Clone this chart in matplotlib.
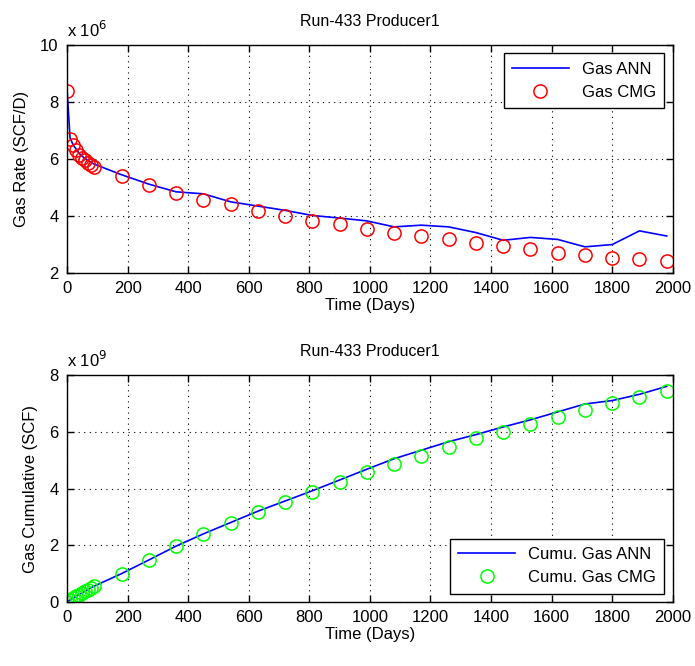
import numpy as np
import matplotlib
matplotlib.use("Agg")
import matplotlib.pyplot as plt

plt.rcParams['font.family'] = ['Liberation Sans', 'DejaVu Sans']
plt.rcParams['font.size'] = 12

# Time points (days)
days = [1, 10, 20, 30, 40, 50, 60, 70, 80, 90,
        180, 270, 360, 450, 540, 630, 720, 810, 900, 990,
        1080, 1170, 1260, 1350, 1440, 1530, 1620, 1710, 1800, 1890, 1980]

# Gas rate, x 10^6 SCF/D
rate_ann = [8.3, 6.75, 6.5, 6.35, 6.2, 6.1, 6.02, 5.95, 5.88, 5.82,
            5.45, 5.12, 4.85, 4.78, 4.5, 4.35, 4.2, 4.02, 3.93, 3.83,
            3.62, 3.68, 3.62, 3.42, 3.15, 3.25, 3.18, 2.92, 3.0, 3.48, 3.30]
rate_cmg = [8.4, 6.7, 6.5, 6.3, 6.15, 6.05, 5.95, 5.85, 5.78, 5.72,
            5.42, 5.09, 4.80, 4.57, 4.41, 4.17, 3.99, 3.82, 3.71, 3.54,
            3.42, 3.30, 3.19, 3.07, 2.95, 2.84, 2.72, 2.65, 2.54, 2.49, 2.43]

# Gas cumulative, x 10^9 SCF
cum_ann = [0.008, 0.07, 0.135, 0.2, 0.265, 0.325, 0.385, 0.445, 0.505, 0.56,
           1.0, 1.48, 1.97, 2.40, 2.80, 3.20, 3.56, 3.92, 4.30, 4.68,
           5.05, 5.35, 5.65, 5.90, 6.17, 6.42, 6.70, 6.98, 7.10, 7.32, 7.60]
cum_cmg = [0.008, 0.07, 0.13, 0.2, 0.26, 0.32, 0.38, 0.44, 0.50, 0.56,
           1.0, 1.47, 1.97, 2.38, 2.77, 3.18, 3.53, 3.86, 4.24, 4.59,
           4.88, 5.15, 5.47, 5.77, 6.0, 6.27, 6.51, 6.77, 7.0, 7.22, 7.45]

fig = plt.figure(figsize=(6.95, 6.66), dpi=100)
ax1 = fig.add_axes([0.0964, 0.590, 0.8716, 0.3424])
ax2 = fig.add_axes([0.0964, 0.0961, 0.8716, 0.3408])


def style(ax, ylim, yticks, ylabel, exp, legend_loc):
    ax.set_xlim(0, 2000)
    ax.set_ylim(*ylim)
    ax.set_xticks(range(0, 2001, 200))
    ax.set_yticks(yticks)
    ax.grid(True, color='black', linestyle=(0, (1, 4)), linewidth=0.8)
    ax.tick_params(direction='in', top=True, right=True, length=5, width=1,
                   pad=6)
    for s in ax.spines.values():
        s.set_linewidth(1)
    ax.set_xlabel("Time (Days)", labelpad=1)
    ax.set_ylabel(ylabel, labelpad=8)
    ax.set_title("Run-433 Producer1", fontsize=11.5, pad=14)
    ax.text(0.0, 1.02, r"x 10$^{%d}$" % exp, transform=ax.transAxes,
            ha='left', va='bottom', fontsize=12)
    leg = ax.legend(loc=legend_loc, fancybox=False, edgecolor='black',
                    framealpha=1, borderpad=0.5, handlelength=3.4)
    leg.get_frame().set_linewidth(1)


ax1.plot(days, rate_ann, color='#0000ff', lw=1.2, label="Gas ANN")
ax1.plot(days, rate_cmg, 'o', mfc='none', mec='red', ms=9.5, mew=1.1,
         label="Gas CMG")
style(ax1, (2, 10), [2, 4, 6, 8, 10], "Gas Rate (SCF/D)", 6, 'upper right')

ax2.plot(days, cum_ann, color='#0000ff', lw=1.2, label="Cumu. Gas ANN")
ax2.plot(days, cum_cmg, 'o', mfc='none', mec='#00ff00', ms=9.5, mew=1.1,
         label="Cumu. Gas CMG")
style(ax2, (0, 8), [0, 2, 4, 6, 8], "Gas Cumulative (SCF)", 9, 'lower right')

fig.savefig("out.png", dpi=100)
